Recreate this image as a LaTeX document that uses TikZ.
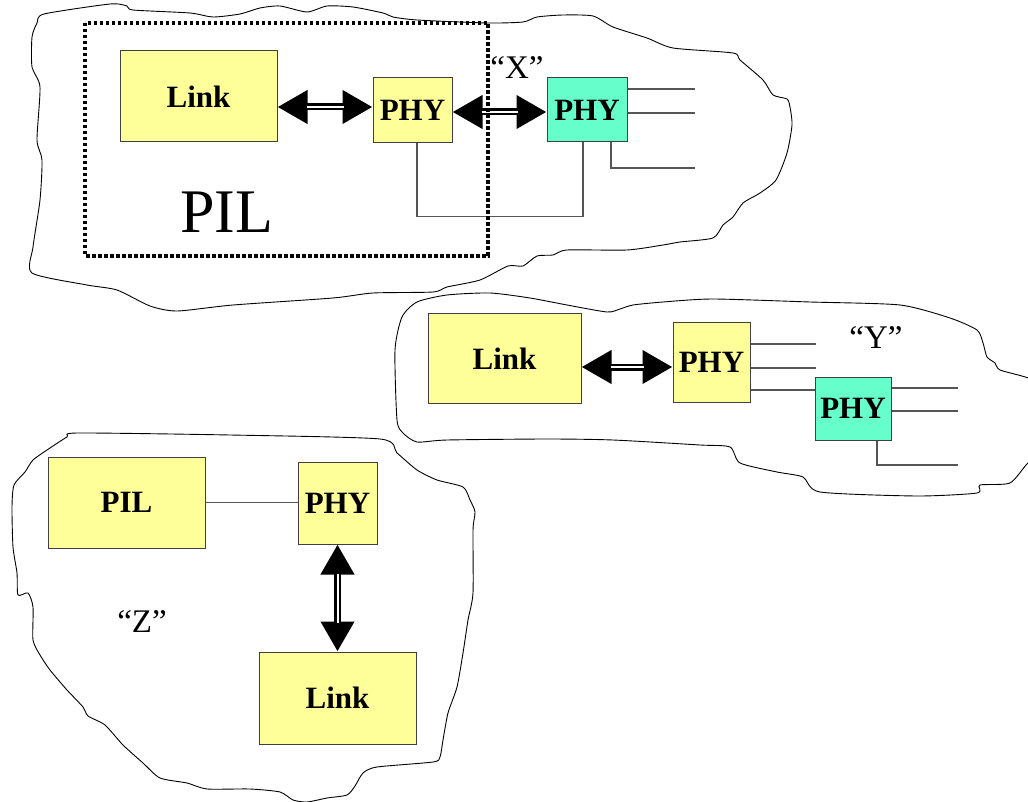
\documentclass[tikz,border=0pt]{standalone}
\usepackage{fontspec}
\setmainfont{Liberation Serif}
\usetikzlibrary{arrows.meta}
\definecolor{boxyellow}{HTML}{FFFF99}
\definecolor{boxgreen}{HTML}{66FFCC}
\definecolor{wiregray}{HTML}{555555}
\tikzset{
 box/.style={draw=black!75, line width=1pt, fill=boxyellow, inner sep=0pt, font=\fontsize{31}{31}\selectfont\bfseries},
 gbox/.style={box, fill=boxgreen},
 wire/.style={draw=wiregray, line width=1.2pt},
 cloudline/.style={draw=black, line width=0.9pt},
 bigarrow/.style={line width=7pt, {Triangle[length=30pt,width=32pt]}-{Triangle[length=30pt,width=32pt]}},
 innerline/.style={white, line width=2pt, shorten <=29pt, shorten >=29pt},
 lbl/.style={font=\fontsize{33}{33}\selectfont},
 dotbox/.style={line width=3.5pt, dash pattern=on 3.5pt off 2.5pt}
}
\begin{document}
\begin{tikzpicture}[x=1pt,y=-1pt]
\useasboundingbox (0,0) rectangle (1028,802);
\clip (0,0) rectangle (1028,802);
% clouds
\draw[cloudline] plot[smooth cycle, tension=0.4] coordinates {(44,14) (110,4) (127,6) (133,10) (190,13) (213,17) (240,14) (260,8) (280,6) (307,12) (327,6) (353,7) (383,13) (393,17) (417,20) (487,23) (523,22) (537,17) (563,15) (593,16) (613,27) (647,38) (673,48) (733,53) (740,60) (763,80) (773,95) (787,99) (790,107) (792,125) (787,153) (776,180) (760,193) (743,203) (733,217) (723,225) (713,238) (680,242) (663,245) (627,250) (567,250) (553,255) (537,256) (523,266) (508,266) (480,280) (447,287) (433,292) (373,293) (333,298) (233,305) (177,311) (150,306) (117,290) (87,285) (32,273) (33,247) (40,200) (42,160) (37,140) (40,87) (32,67) (32,37) (37,23)};
\draw[cloudline] plot[smooth cycle, tension=0.4] coordinates {(395,350) (402,317) (417,302) (447,295) (490,293) (530,298) (567,305) (607,312) (620,309) (633,305) (663,302) (713,299) (810,302) (900,305) (950,318) (977,330) (983,343) (987,357) (995,363) (1000,370) (1028,378) (1045,390) (1045,455) (1028,463) (1010,483) (980,485) (977,493) (917,496) (820,492) (803,477) (777,472) (740,463) (730,447) (700,445) (613,440) (547,439) (447,440) (417,442) (403,433) (397,420)};
\draw[cloudline] plot[smooth cycle, tension=0.4] coordinates {(78,433) (230,435) (380,439) (397,453) (417,470) (437,480) (463,487) (470,500) (475,512) (473,530) (473,593) (468,620) (463,653) (457,687) (448,713) (443,740) (440,757) (433,762) (377,767) (363,773) (355,786) (347,795) (327,798) (307,802) (293,800) (280,792) (250,789) (207,789) (187,783) (160,778) (143,763) (123,745) (105,725) (88,716) (83,707) (67,690) (50,670) (40,655) (33,640) (33,607) (28,593) (18,595) (17,573) (13,547) (12,507) (14,485) (25,472) (33,460) (50,448) (67,437)};
% top cloud "X"
\node[box, minimum width=157pt, minimum height=91pt] (L1) at (198.5,96.5) {Link};
\node[box, minimum width=79pt, minimum height=65pt] (P1) at (412.5,110.5) {PHY};
\node[gbox, minimum width=80pt, minimum height=64pt] (P2) at (587,110) {PHY};
\node[lbl] (X) at (517,68) {``X''};
\node[font=\fontsize{62}{62}\selectfont] (PILbig) at (227,212) {PIL};
\coordinate (x1) at (695,89);
\coordinate (x2) at (695,113);
\coordinate (x3) at (695,168);
\draw[wire] (P2.east |- x1) -- (x1);
\draw[wire] (P2.east |- x2) -- (x2);
\draw[wire] ([xshift=24pt]P2.south) |- (x3);
\draw[wire] ([xshift=4.5pt]P1.south) -- ++(0,73) -| ([xshift=-4pt]P2.south);
\coordinate (yA) at (0,107);
\coordinate (yB) at (0,112);
\draw[bigarrow] (L1.east |- yA) -- (P1.west |- yA);
\draw[innerline] (L1.east |- yA) -- (P1.west |- yA);
\draw[bigarrow] (P1.east |- yB) -- (P2.west |- yB);
\draw[innerline] (P1.east |- yB) -- (P2.west |- yB);
\draw[dotbox] (85,23) rectangle (488,256);
% middle cloud "Y"
\node[box, minimum width=153pt, minimum height=89pt] (L2) at (504.5,358.5) {Link};
\node[box, minimum width=77pt, minimum height=79pt] (P3) at (711.5,362.5) {PHY};
\node[gbox, minimum width=76pt, minimum height=63pt] (P4) at (853,408.5) {PHY};
\node[lbl] (Y) at (876,338) {``Y''};
\coordinate (y1) at (816,344);
\coordinate (y2) at (816,368);
\coordinate (y3) at (0,390);
\draw[wire] (P3.east |- y1) -- (y1);
\draw[wire] (P3.east |- y2) -- (y2);
\draw[wire] (P3.east |- y3) -- (P4.west |- y3);
\coordinate (y4) at (958,388);
\coordinate (y5) at (958,411);
\coordinate (y6) at (958,465);
\draw[wire] (P4.east |- y4) -- (y4);
\draw[wire] (P4.east |- y5) -- (y5);
\draw[wire] ([xshift=24pt]P4.south) |- (y6);
\coordinate (yC) at (0,367);
\draw[bigarrow] (L2.east |- yC) -- (P3.west |- yC);
\draw[innerline] (L2.east |- yC) -- (P3.west |- yC);
% bottom cloud "Z"
\node[box, minimum width=157pt, minimum height=91pt] (PIL) at (126.5,502.5) {PIL};
\node[box, minimum width=79pt, minimum height=82pt] (P5) at (337.5,503) {PHY};
\node[box, minimum width=157pt, minimum height=92pt] (L3) at (337.5,698) {Link};
\node[lbl] (Z) at (142,622) {``Z''};
\draw[wire] (PIL.east) -- (PIL.east -| P5.west);
\draw[bigarrow] (P5.south) -- (L3.north);
\draw[innerline] (P5.south) -- (L3.north);
\end{tikzpicture}
\end{document}
